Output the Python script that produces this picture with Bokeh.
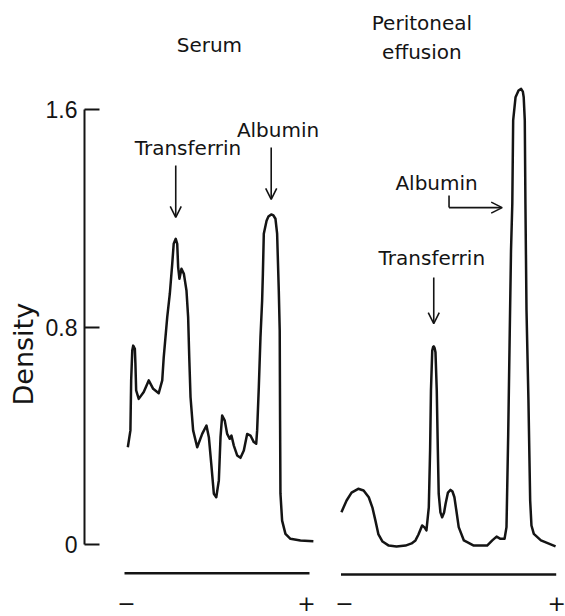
from bokeh.plotting import figure
from bokeh.models import Range1d, FixedTicker, NumeralTickFormatter, Arrow, OpenHead, Title
from bokeh.core.properties import value
from bokeh.embed import file_html
from bokeh.resources import INLINE

# ---- data: densitometer traces (mobility in arbitrary units, strip 0..100) ----
serum_x = [1.8, 3.2, 3.6, 4.2, 4.7, 5.6, 5.9, 6.3, 7.7, 10.4, 13.1, 15.5, 18.5, 20.4, 21.2,
           23.1, 24.5, 25.8, 26.6, 27.7, 28.5, 29.0, 29.7, 30.8, 32.1, 33.5, 34.4, 35.0, 35.7,
           37.1, 39.3, 42.0, 44.3, 45.6, 46.9, 48.3, 49.6, 51.0, 51.9, 52.8, 54.2, 55.5, 56.9,
           57.8, 59.1, 60.9, 62.7, 64.5, 66.3, 68.1, 69.9, 71.2, 71.7, 72.6, 73.5, 74.4, 74.8,
           75.3, 76.8, 77.8, 79.3, 80.5, 81.6, 82.5, 83.4, 83.9, 84.1, 84.3, 85.2, 87.0, 89.7,
           95.1, 102.1]
serum_density = [0.358, 0.420, 0.604, 0.714, 0.732, 0.720, 0.666, 0.567, 0.536, 0.561, 0.604,
                 0.573, 0.557, 0.604, 0.689, 0.837, 0.923, 1.033, 1.107, 1.125, 1.107, 1.021,
                 0.978, 1.015, 0.996, 0.935, 0.837, 0.689, 0.542, 0.420, 0.358, 0.407, 0.438,
                 0.395, 0.297, 0.187, 0.174, 0.236, 0.395, 0.475, 0.456, 0.407, 0.389, 0.401,
                 0.364, 0.328, 0.319, 0.346, 0.407, 0.401, 0.377, 0.371, 0.420, 0.579, 0.763,
                 0.898, 0.996, 1.144, 1.192, 1.207, 1.215, 1.211, 1.199, 1.144, 0.935, 0.788,
                 0.456, 0.187, 0.088, 0.039, 0.021, 0.015, 0.012]

perit_x = [0.2, 2.6, 4.9, 8.0, 10.5, 12.9, 14.6, 16.0, 17.4, 19.3, 22.2, 25.8, 30.0, 32.8,
           34.6, 36.0, 37.7, 38.8, 39.7, 40.8, 41.4, 41.8, 42.4, 42.8, 43.1, 43.5, 43.9, 44.5,
           45.0, 45.4, 46.2, 47.0, 47.9, 48.6, 49.7, 50.9, 51.8, 52.7, 53.6, 54.7, 57.1, 61.7,
           67.9, 70.3, 72.3, 74.1, 76.0, 76.9, 77.7, 78.4, 79.0, 79.6, 80.0, 81.1, 82.5, 83.7,
           84.5, 84.9, 85.4, 85.7, 86.2, 87.1, 87.9, 88.5, 89.6, 92.9, 99.7]
perit_density = [0.119, 0.162, 0.191, 0.205, 0.199, 0.174, 0.136, 0.088, 0.037, 0.011, -0.004,
                 -0.007, -0.004, 0.004, 0.015, 0.037, 0.070, 0.063, 0.052, 0.137, 0.346, 0.567,
                 0.714, 0.727, 0.729, 0.723, 0.708, 0.567, 0.346, 0.187, 0.118, 0.100, 0.118,
                 0.150, 0.191, 0.201, 0.195, 0.174, 0.125, 0.064, 0.015, -0.004, -0.004, 0.015,
                 0.029, 0.021, 0.021, 0.064, 0.407, 0.775, 1.082, 1.254, 1.561, 1.646, 1.671,
                 1.677, 1.667, 1.646, 1.561, 1.254, 0.861, 0.530, 0.162, 0.070, 0.039, 0.015,
                 -0.007]

y_ticks = [0, 0.8, 1.6]
panel_titles = ["Serum", "Peritoneal\neffusion"]
strip_extent = [0, 100]
pole_labels = ["\u2212", "+"]

INK = "#141414"
FONT = value("DejaVu Sans")

p = figure(width=565, height=616, output_backend="svg", toolbar_location=None,
           x_axis_type=None, y_axis_location="left",
           x_range=Range1d(-21.62, 238.38), y_range=Range1d(-0.2650, 2.0023),
           min_border_left=84, min_border_right=0, min_border_top=0, min_border_bottom=0)
p.extra_x_ranges = {"perit": Range1d(-119.19, 104.32)}
p.outline_line_color = None
p.grid.visible = False
p.background_fill_color = "white"
p.border_fill_color = "white"

ax = p.yaxis[0]
ax.ticker = FixedTicker(ticks=y_ticks)
ax.formatter = NumeralTickFormatter(format="0.[0]")
ax.bounds = (0, 1.6)
ax.axis_line_width = 2
ax.axis_line_color = INK
ax.major_tick_in = 15
ax.major_tick_out = 0
ax.major_tick_line_width = 2
ax.major_tick_line_color = INK
ax.minor_tick_line_color = None
ax.major_label_text_font = "Liberation Sans"
ax.major_label_text_font_size = "23px"
ax.major_label_text_color = INK
ax.major_label_standoff = 7

# axis title in the left margin, below the axis midpoint as in the original
p.add_layout(Title(text="Density", align="left", offset=211, standoff=8,
                   text_font="DejaVu Sans", text_font_size="27px",
                   text_font_style="normal", text_color=INK), "left")

# traces
p.line(serum_x, serum_density, line_color=INK, line_width=2.5, line_join="round")
p.line(perit_x, perit_density, line_color=INK, line_width=2.5, line_join="round",
       x_range_name="perit")

# strip bars and pole signs
p.line(strip_extent, [-0.106, -0.106], line_color=INK, line_width=2.5)
p.line(strip_extent, [-0.110, -0.110], line_color=INK, line_width=2.5, x_range_name="perit")
p.text([1.1, 98.4], [-0.216, -0.216], text=pole_labels, text_align="center",
       text_baseline="middle", text_font=FONT, text_font_size="22px", text_color=INK)
p.text([1.6, 100.2], [-0.216, -0.216], text=pole_labels, text_align="center",
       text_baseline="middle", text_font=FONT, text_font_size="22px", text_color=INK,
       x_range_name="perit")

# panel titles
p.text([45.9], [1.837], text=[panel_titles[0]], text_align="center", text_baseline="middle",
       text_font=FONT, text_font_size="20px", text_color=INK)
p.text([37.6], [1.866], text=[panel_titles[1]], text_align="center", text_baseline="middle",
       text_font=FONT, text_font_size="20px", text_color=INK, x_range_name="perit")

def peak_x(xs, ys, lo, hi):
    best = max((y, x) for x, y in zip(xs, ys) if lo <= x <= hi)
    return best[1]

s_tf = peak_x(serum_x, serum_density, 0, 40)
s_alb = peak_x(serum_x, serum_density, 60, 100)
p_tf = peak_x(perit_x, perit_density, 30, 60)

def arrow(x0, y0, x1, y1, rng="default"):
    p.add_layout(Arrow(end=OpenHead(size=11, line_width=1.6, line_color=INK),
                       x_start=x0, y_start=y0, x_end=x1, y_end=y1,
                       line_width=1.6, line_color=INK, x_range_name=rng))

# serum annotations
p.text([34.3, 83.0], [1.461, 1.524], text=["Transferrin", "Albumin"], text_align="center",
       text_baseline="middle", text_font=FONT, text_font_size="20px", text_color=INK)
arrow(s_tf, 1.395, s_tf, 1.204)
arrow(s_alb, 1.461, s_alb, 1.270)

# peritoneal annotations
p.text([42.2, 44.4], [1.056, 1.332], text=["Transferrin", "Albumin"], text_align="center",
       text_baseline="middle", text_font=FONT, text_font_size="20px", text_color=INK,
       x_range_name="perit")
arrow(p_tf, 0.983, p_tf, 0.813, "perit")
p.line([50.2, 50.2], [1.285, 1.240], line_color=INK, line_width=1.6, x_range_name="perit")
arrow(50.2, 1.240, 74.9, 1.240, "perit")

open("out.html", "w").write(file_html(p, INLINE))
